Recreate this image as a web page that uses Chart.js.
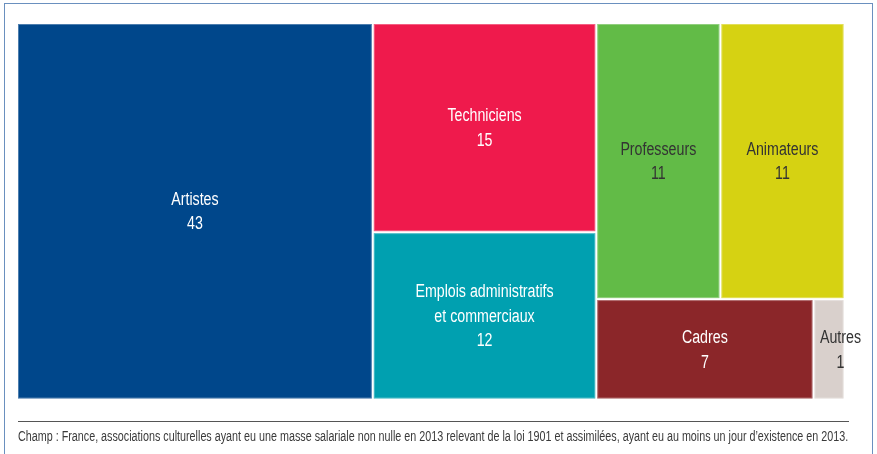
<!DOCTYPE html>
<html lang="fr">
<head>
<meta charset="utf-8">
<title>Associations culturelles - salariés par métier</title>
<script src="https://cdn.jsdelivr.net/npm/chart.js@4.4.0/dist/chart.umd.min.js"></script>
<style>
  body { margin: 0; background: #fff; }
  #cadre { position: absolute; left: 4px; top: 3px; width: 869px; height: 470px; border: 1px solid #6a90bf; box-sizing: border-box; }
  #graphique { position: absolute; left: 0; top: 0; }
  #trait { position: absolute; left: 18px; top: 421px; width: 831px; height: 1px; background: #555; }
  #note { position: absolute; left: 18px; top: 428px; line-height: 15px; white-space: nowrap;
          font: 14px "Liberation Sans", Arial, sans-serif; color: #3a3a3a; transform-origin: 0 0; }
</style>
</head>
<body>
<div id="cadre"></div>
<canvas id="graphique" width="877" height="454"></canvas>
<div id="trait"></div>
<div id="note">Champ : France, associations culturelles ayant eu une masse salariale non nulle en 2013 relevant de la loi 1901 et assimilées, ayant eu au moins un jour d’existence en 2013.</div>

<script>
  // metiers et part des salaries (%)
  const categories = ['Artistes', 'Techniciens', ['Emplois administratifs', 'et commerciaux'], 'Professeurs', 'Animateurs', 'Cadres', 'Autres'];
  const effectifs = [43, 15, 12, 11, 11, 7, 1];

  const couleurs = ['#00478b', '#ef1a4c', '#00a0b0', '#62bb47', '#d6d212', '#8b2629', '#d9d0cc'];
  const couleursTexte = ['#fff', '#fff', '#fff', '#333', '#333', '#fff', '#333'];

  const ETROIT = 0.79; // police "etroite" : Liberation Sans comprimee en largeur

  // la note tient sur la largeur du trait
  const note = document.getElementById('note');
  note.style.transform = 'scaleX(' + (830 / note.scrollWidth) + ')';

  // decoupage "squarified" (meme principe que d3, ratio = nombre d'or)
  function squarify(valeurs, x0, y0, x1, y1) {
    const ratio = (1 + Math.sqrt(5)) / 2;
    const rects = [];
    const n = valeurs.length;
    let total = valeurs.reduce((a, b) => a + b, 0);
    let i0 = 0, i1 = 0;

    while (i0 < n) {
      const dx = x1 - x0, dy = y1 - y0;
      let somme = valeurs[i1++];
      let min = somme, max = somme;
      const alpha = Math.max(dy / dx, dx / dy) / (total * ratio);
      let beta = somme * somme * alpha;
      let minRatio = Math.max(max / beta, beta / min);

      for (; i1 < n; i1++) {
        const v = valeurs[i1];
        somme += v;
        if (v < min) min = v;
        if (v > max) max = v;
        beta = somme * somme * alpha;
        const r = Math.max(max / beta, beta / min);
        if (r > minRatio) { somme -= v; break; }
        minRatio = r;
      }

      if (dx < dy) { // rangee horizontale
        const h = dy * somme / total;
        let x = x0;
        for (let i = i0; i < i1; i++) {
          const w = dx * valeurs[i] / somme;
          rects[i] = { x0: x, y0: y0, x1: x + w, y1: y0 + h };
          x += w;
        }
        y0 += h;
      } else { // colonne
        const w = dx * somme / total;
        let y = y0;
        for (let i = i0; i < i1; i++) {
          const h = dy * valeurs[i] / somme;
          rects[i] = { x0: x0, y0: y, x1: x0 + w, y1: y + h };
          y += h;
        }
        x0 += w;
      }
      total -= somme;
      i0 = i1;
    }
    return rects;
  }

  const pavage = {
    id: 'pavage',
    afterDatasetsDraw(chart) {
      const { ctx, chartArea, scales } = chart;
      const ds = chart.data.datasets[0];
      const W = chartArea.width, H = chartArea.height;
      const rects = squarify(ds.data, 0, 0, W, H);

      ctx.save();
      rects.forEach((r, i) => {
        const gauche = scales.x.getPixelForValue(r.x0 / W) + 1;
        const droite = scales.x.getPixelForValue(r.x1 / W) - 1;
        const haut = scales.y.getPixelForValue(r.y0 / H) + 1;
        const bas = scales.y.getPixelForValue(r.y1 / H) - 1;

        ctx.fillStyle = couleurs[i];
        ctx.fillRect(gauche, haut, droite - gauche, bas - haut);
        ctx.strokeStyle = 'rgba(255,255,255,0.3)';
        ctx.lineWidth = 1;
        ctx.strokeRect(gauche + 0.5, haut + 0.5, droite - gauche - 1, bas - haut - 1);

        // etiquette : nom du metier + valeur
        const lab = chart.data.labels[i];
        const lignes = (Array.isArray(lab) ? lab : [lab]).concat(String(ds.data[i]));
        ctx.font = '18px "Liberation Sans", Arial, sans-serif';
        ctx.fillStyle = couleursTexte[i];
        ctx.textAlign = 'center';
        ctx.textBaseline = 'middle';
        const larg = Math.max(...lignes.map(t => ctx.measureText(t).width)) * ETROIT;
        let cx = (gauche + droite) / 2;
        if (larg > droite - gauche) cx = droite - 3; // trop etroit : on decale
        const cy = (haut + bas) / 2;
        const pas = 24.5;
        lignes.forEach((t, k) => {
          ctx.save();
          ctx.translate(cx, cy + 1 + (k - (lignes.length - 1) / 2) * pas);
          ctx.scale(ETROIT, 1);
          ctx.fillText(t, 0, 0);
          ctx.restore();
        });
      });
      ctx.restore();
    }
  };

  const chart = new Chart(document.getElementById('graphique'), {
    type: 'scatter',
    data: {
      labels: categories,
      datasets: [{
        label: 'Part des salariés (%)',
        data: effectifs,
        pointRadius: 0,
        showLine: false
      }]
    },
    options: {
      responsive: false,
      animation: false,
      layout: { padding: { left: 17, top: 23, right: 32.5, bottom: 54.5 } },
      scales: {
        x: { type: 'linear', min: 0, max: 1, display: false },
        y: { type: 'linear', min: 0, max: 1, reverse: true, display: false }
      },
      plugins: {
        legend: { display: false },
        tooltip: { enabled: false }
      }
    },
    plugins: [pavage]
  });
</script>
</body>
</html>
